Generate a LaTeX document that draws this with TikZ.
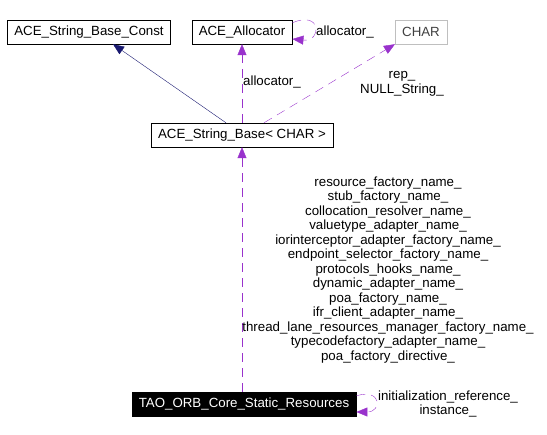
\documentclass[tikz,border=0pt]{standalone}
\usepackage{fontspec}
\setmainfont{Liberation Sans}
\usetikzlibrary{arrows.meta,positioning,calc}
\definecolor{edgenavy}{RGB}{25,25,112}
\definecolor{usepurple}{RGB}{153,50,204}
\definecolor{boxgray}{RGB}{191,191,191}

\begin{document}
\begin{tikzpicture}[x=1pt,y=-1pt,font=\fontsize{13.3}{14.5}\selectfont,
  cls/.style={draw=black,fill=white,minimum height=24pt,inner xsep=7pt,inner ysep=0pt},
  usage/.style={usepurple,dashed,dash pattern=on 9pt off 6pt,-{Triangle[length=11pt,width=9pt]}},
  lab/.style={align=center,inner sep=0pt}]
\useasboundingbox (0,0) rectangle (547,435);
% classes
\node[cls] (sbconst) at (89,32) {ACE\_String\_Base\_Const};
\node[cls] (alloc) at (242,32) {ACE\_Allocator};
\node[cls,draw=boxgray,text=black!75] (chr) at (421,32) {CHAR};
\node[cls] (sbase) at (242,135) {ACE\_String\_Base\textless{} CHAR \textgreater};
\node[cls,fill=black,text=white] (tao) at (244,404) {TAO\_ORB\_Core\_Static\_Resources};
% inheritance
\draw[edgenavy,-{Triangle[length=11pt,width=9pt]}] ($(sbase.north)+(-16,0)$) -- ($(sbconst.south)+(24,0)$);
% usage edges
\draw[usage] (sbase.north -| alloc) -- (alloc.south);
\draw[usage] ($(alloc.north east)+(0,3)$) .. controls (322,10) and (322,42) .. ($(alloc.east)+(0,7)$);
\draw[usage] ($(sbase.north)+(22,0)$) -- (chr.south west);
\draw[usage] (tao.north -| sbase) -- (sbase.south);
\draw[usage] ($(tao.north east)+(0,4)$) .. controls (382,388) and (382,412) .. ($(tao.east)+(0,8)$);
% labels
\node[lab] (lalloc) at (272,82) {allocator\_};
\node[lab] (lself) at (345,32) {allocator\_};
\node[lab] (lrep) at (402,84) {rep\_\\NULL\_String\_};
\node[lab] (lnames) at (388,270)
  {resource\_factory\_name\_\\stub\_factory\_name\_\\collocation\_resolver\_name\_\\
   valuetype\_adapter\_name\_\\iorinterceptor\_adapter\_factory\_name\_\\
   endpoint\_selector\_factory\_name\_\\protocols\_hooks\_name\_\\
   dynamic\_adapter\_name\_\\poa\_factory\_name\_\\ifr\_client\_adapter\_name\_\\
   thread\_lane\_resources\_manager\_factory\_name\_\\
   typecodefactory\_adapter\_name\_\\poa\_factory\_directive\_};
\node[lab] (linst) at (448,404) {initialization\_reference\_\\instance\_};
\end{tikzpicture}
\end{document}
